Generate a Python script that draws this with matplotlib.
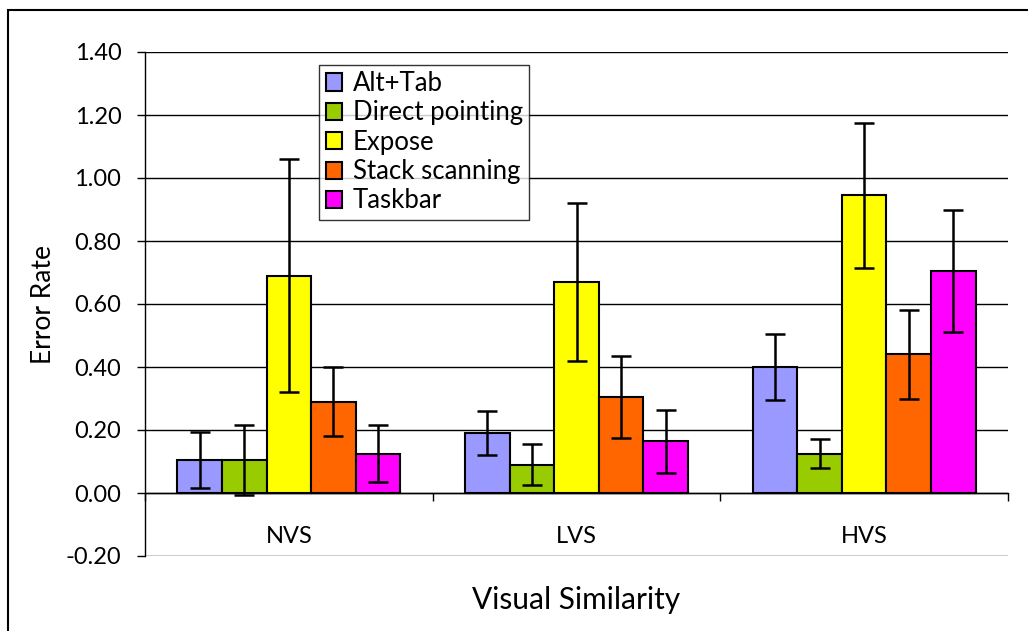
import numpy as np
import matplotlib.pyplot as plt
from matplotlib.patches import Rectangle

plt.rcParams['font.family'] = ['Lato', 'DejaVu Sans']

groups = ['NVS', 'LVS', 'HVS']
techniques = ['Alt+Tab', 'Direct pointing', 'Expose', 'Stack scanning', 'Taskbar']
colors = ['#9999FF', '#99CC00', '#FFFF00', '#FF6600', '#FF00FF']

# mean error rate per technique, order NVS, LVS, HVS
alt_tab = [0.105, 0.19, 0.40]
direct = [0.105, 0.09, 0.125]
expose = [0.69, 0.67, 0.945]
stack = [0.29, 0.305, 0.44]
taskbar = [0.125, 0.165, 0.705]

alt_tab_err = [0.09, 0.07, 0.105]
direct_err = [0.11, 0.065, 0.047]
expose_err = [0.37, 0.25, 0.23]
stack_err = [0.11, 0.13, 0.14]
taskbar_err = [0.09, 0.10, 0.195]

means = [alt_tab, direct, expose, stack, taskbar]
errs = [alt_tab_err, direct_err, expose_err, stack_err, taskbar_err]

fig = plt.figure(figsize=(10.28, 6.31), dpi=100)
ax = fig.add_axes([145/1028, 75/631, 863/1028, 504/631])

x = np.arange(len(groups))
w = 0.155
for i in range(5):
    ax.bar(x + (i - 2) * w, means[i], w, color=colors[i], edgecolor='black',
           linewidth=1.5, label=techniques[i], zorder=3)
    ax.errorbar(x + (i - 2) * w, means[i], yerr=errs[i], fmt='none', ecolor='black',
                elinewidth=1.8, capsize=7, capthick=1.8, zorder=4)

ax.set_xlim(-0.5, 2.5)
ax.set_ylim(-0.2, 1.4)
ax.set_yticks(np.arange(-0.2, 1.41, 0.2))
ax.set_yticklabels(['%.2f' % v for v in np.arange(-0.2, 1.41, 0.2)], fontsize=17)
ax.yaxis.grid(True, color='black', linewidth=1.0, zorder=0)
ax.set_axisbelow(True)

ax.spines['top'].set_visible(False)
ax.spines['right'].set_visible(False)
ax.spines['bottom'].set_position(('data', 0))
ax.spines['left'].set_linewidth(1.0)
ax.spines['bottom'].set_linewidth(1.0)

ax.set_xticks(x)
ax.set_xticklabels(groups, fontsize=17)
ax.tick_params(axis='x', which='major', length=0, pad=24)
ax.set_xticks([-0.5, 0.5, 1.5, 2.5], minor=True)
ax.tick_params(axis='x', which='minor', length=6, width=1, direction='out')
ax.tick_params(axis='y', length=6, width=1, direction='out', pad=11)

ax.set_ylabel('Error Rate', fontsize=19, labelpad=7)
fig.text(576/1028, 1 - 600/631, 'Visual Similarity', fontsize=21.5, ha='center', va='center')

leg = ax.legend(loc='upper left', bbox_to_anchor=(0.202, 0.975), fontsize=18.5,
                frameon=True, fancybox=False, handlelength=0.65, handleheight=0.65,
                handletextpad=0.4, labelspacing=0.17, borderpad=0.25, borderaxespad=0)
leg.get_frame().set_edgecolor('black')
leg.get_frame().set_linewidth(1.0)

fig.patches.append(Rectangle((8/1028, -0.1), 1.1, 1 - 10/631 + 0.1, transform=fig.transFigure,
                             fill=False, edgecolor='black', linewidth=1.5, clip_on=False))

fig.savefig('out.png', dpi=100)
